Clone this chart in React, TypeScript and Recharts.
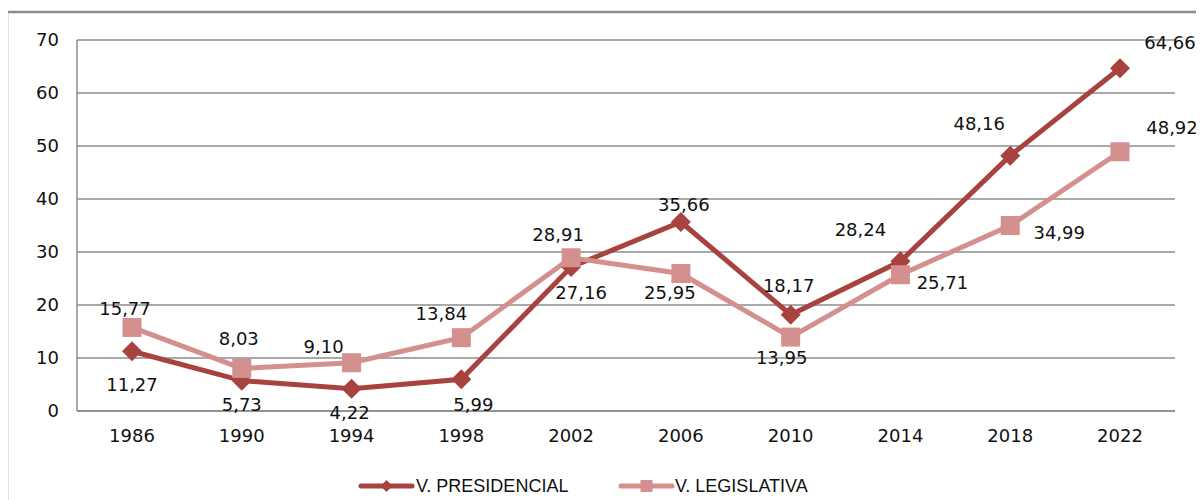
import React from 'react';
import { LineChart, Line, XAxis, YAxis, CartesianGrid, LabelList } from 'recharts';

const years = ['1986', '1990', '1994', '1998', '2002', '2006', '2010', '2014', '2018', '2022'];
const presidencial = [11.27, 5.73, 4.22, 5.99, 27.16, 35.66, 18.17, 28.24, 48.16, 64.66];
const legislativa = [15.77, 8.03, 9.1, 13.84, 28.91, 25.95, 13.95, 25.71, 34.99, 48.92];
const yTicks = [0, 10, 20, 30, 40, 50, 60, 70];
const seriesNames = ['V. PRESIDENCIAL', 'V. LEGISLATIVA'];

const data = years.map((y, i) => ({ year: y, pres: presidencial[i], leg: legislativa[i] }));

// label placement offsets (styling)
const presOffsets: [number, number][] = [[0, 33], [0, 24], [-2, 24], [12, 25], [10, 25], [3, -18], [-2, -29], [-40, -32], [-31, -32], [50, -26]];
const legOffsets: [number, number][] = [[-7, -19], [-3, -30], [-28, -16], [-20, -24], [-13, -23], [-11, 19], [-9, 20], [42, 8], [49, 7], [52, -24]];

const DARK = '#A8423F';
const LIGHT = '#D4908E';
const GRID = '#8C8C8C';
const FONT = '"DejaVu Sans", Verdana, sans-serif';

const fmt = (v: number) => v.toFixed(2).replace('.', ',');

const Diamond = (props: any) => {
  const { cx, cy } = props;
  if (cx == null || cy == null) return null;
  const h = 10;
  return <polygon points={`${cx},${cy - h} ${cx + h},${cy} ${cx},${cy + h} ${cx - h},${cy}`} fill={DARK} />;
};

const Square = (props: any) => {
  const { cx, cy } = props;
  if (cx == null || cy == null) return null;
  const h = 9.5;
  return <rect x={cx - h} y={cy - h} width={2 * h} height={2 * h} fill={LIGHT} />;
};

const makeLabel = (offsets: [number, number][]) => (props: any) => {
  const { x, y, value, index } = props;
  const [dx, dy] = offsets[index] || [0, 0];
  return (
    <text x={x + dx} y={y + dy} textAnchor="middle" dominantBaseline="central" fontSize={18} fontFamily={FONT} fill="#111">
      {fmt(value)}
    </text>
  );
};

export default function App() {
  return (
    <div style={{ position: 'relative', width: 1204, height: 500, marginLeft: -8, marginTop: -8, overflow: 'hidden', background: '#fff' }}>
      <div style={{ position: 'absolute', left: 0, top: 0 }}>
        <LineChart width={1204} height={500} data={data} margin={{ top: 40, right: 29, bottom: 59, left: 17 }}>
          <CartesianGrid vertical={false} stroke={GRID} strokeWidth={1.5} />
          <XAxis
            dataKey="year"
            stroke={GRID}
            strokeWidth={1.5}
            tickLine={false}
            tickSize={6}
            tickMargin={12}
            height={30}
            padding={{ left: 55, right: 55 }}
            tick={{ fill: '#111', fontSize: 18, fontFamily: FONT }}
          />
          <YAxis
            domain={[0, 70]}
            ticks={yTicks}
            width={60}
            stroke={GRID}
            strokeWidth={1.5}
            tickLine={false}
            tickSize={6}
            tickMargin={12}
            tick={{ fill: '#111', fontSize: 18, fontFamily: FONT }}
          />
          <Line dataKey="pres" name={seriesNames[0]} stroke={DARK} strokeWidth={5} dot={<Diamond />} activeDot={false} isAnimationActive={false}>
            <LabelList dataKey="pres" content={makeLabel(presOffsets)} />
          </Line>
          <Line dataKey="leg" name={seriesNames[1]} stroke={LIGHT} strokeWidth={5} dot={<Square />} activeDot={false} isAnimationActive={false}>
            <LabelList dataKey="leg" content={makeLabel(legOffsets)} />
          </Line>
        </LineChart>
      </div>
      <svg style={{ position: 'absolute', left: 0, top: 0 }} width={1204} height={500}>
        <rect x={7} y={12} width={1300} height={600} fill="none" stroke={GRID} strokeWidth={2.5} />
        <line x1={361} x2={412} y1={486} y2={486} stroke={DARK} strokeWidth={5} strokeLinecap="round" />
        <polygon points="386.5,480 392.5,486 386.5,492 380.5,486" fill={DARK} />
        <text x={416} y={486} dominantBaseline="central" fontSize={18} fontFamily='"Liberation Sans", Arial, sans-serif' fill="#111">{seriesNames[0]}</text>
        <line x1={621} x2={672} y1={486} y2={486} stroke={LIGHT} strokeWidth={5} strokeLinecap="round" />
        <rect x={640.5} y={480} width={12} height={12} fill={LIGHT} />
        <text x={675} y={486} dominantBaseline="central" fontSize={18} fontFamily='"Liberation Sans", Arial, sans-serif' fill="#111">{seriesNames[1]}</text>
      </svg>
    </div>
  );
}
